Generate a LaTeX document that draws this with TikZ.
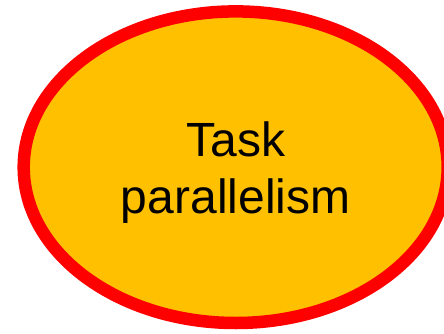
\documentclass[tikz,border=0pt]{standalone}
\usepackage{fontspec}
\setmainfont{Liberation Sans}
\usepackage{tikz}
\usetikzlibrary{shapes.geometric}
\definecolor{task fill}{HTML}{FFC000}
\definecolor{task line}{HTML}{FF0000}
\tikzset{bubble/.style={ellipse, draw=task line, fill=task fill, line width=12.5pt, inner sep=0pt}}
\tikzset{bubble text/.style={font=\fontsize{48}{56.6}\selectfont, align=center, inner sep=0pt}}

\begin{document}
\begin{tikzpicture}[x=1pt, y=1pt]
                \useasboundingbox (0, 0) rectangle (444, 333);
                \node[bubble, minimum width=424pt, minimum height=311.6pt] (task) at (235.7, 165.8) {};
                \node[bubble text] (label) at ([yshift=-5.3pt]task.center) {Task\\parallelism};
            \end{tikzpicture}
\end{document}
